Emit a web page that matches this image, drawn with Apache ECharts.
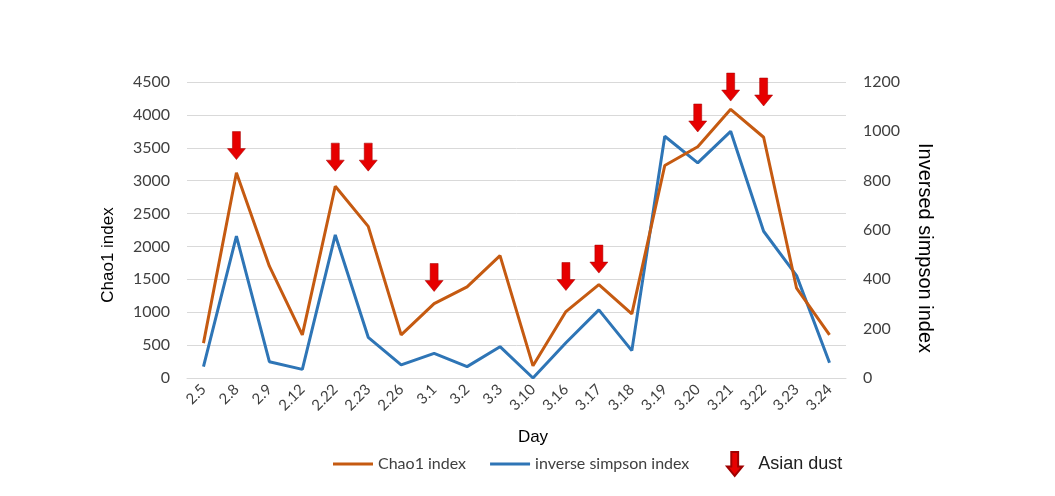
<!DOCTYPE html>
<html>
<head>
<meta charset="utf-8">
<script src="https://cdn.jsdelivr.net/npm/echarts@6/dist/echarts.min.js"></script>
<style>
html,body{margin:0;padding:0;background:#fff;}
#c{width:1055px;height:496px;}
</style>
</head>
<body>
<div id="c"></div>
<script>
var days = ['2.5','2.8','2.9','2.12','2.22','2.23','2.26','3.1','3.2','3.3','3.10','3.16','3.17','3.18','3.19','3.20','3.21','3.22','3.23','3.24'];
var chao1 = [530, 3120, 1700, 655, 2915, 2305, 655, 1130, 1385, 1860, 185, 1010, 1420, 975, 3230, 3515, 4085, 3660, 1365, 655];
var invSimpson = [46, 575, 66, 35, 580, 165, 53, 100, 46, 127, 0, 143, 276, 111, 980, 872, 1000, 595, 415, 62];
var dustDays = ['2.8','2.22','2.23','3.1','3.16','3.17','3.20','3.21','3.22'];
var dustLevel = [3320, 3145, 3145, 1315, 1330, 1595, 3740, 4210, 4135];
var leftTicks = {min: 0, max: 4500, interval: 500};
var rightTicks = {min: 0, max: 1200, interval: 200};

var arrowPath = 'path://M5,0L13,0L13,17L18,17L9,28L0,17L5,17Z';
var orange = '#C55A11';
var blue = '#2E75B6';
var red = '#E60000';

var chart = echarts.init(document.getElementById('c'));
chart.setOption({
  animation: false,
  backgroundColor: '#fff',
  grid: {left: 187, right: 209, top: 82, bottom: 118, containLabel: false},
  legend: [{
    left: 328, top: 451,
    itemWidth: 40, itemHeight: 3, itemGap: 24,
    icon: 'rect',
    textStyle: {fontFamily: 'Lato', fontSize: 16, color: '#404040'},
    data: ['Chao1 index', 'inverse simpson index']
  }, {
    left: 721, top: 446,
    itemWidth: 17, itemHeight: 24,
    textStyle: {fontFamily: 'Liberation Sans', fontSize: 18, color: '#202020', padding: [0,0,0,10]},
    data: [{name: 'Asian dust', icon: arrowPath, itemStyle: {opacity: 1}}]
  }],
  xAxis: {
    type: 'category',
    data: days,
    boundaryGap: true,
    axisLine: {lineStyle: {color: '#d9d9d9', width: 1}},
    axisTick: {show: false},
    axisLabel: {rotate: 45, margin: 9, fontFamily: 'Lato', fontSize: 15, color: '#404040', interval: 0}
  },
  yAxis: [{
    type: 'value',
    min: leftTicks.min, max: leftTicks.max, interval: leftTicks.interval,
    axisLine: {show: false}, axisTick: {show: false},
    splitLine: {lineStyle: {color: '#d9d9d9', width: 1}},
    axisLabel: {margin: 17, fontFamily: 'Lato', fontSize: 16, color: '#404040',
      formatter: function (v) { return String(v); }}
  }, {
    type: 'value',
    min: rightTicks.min, max: rightTicks.max, interval: rightTicks.interval,
    axisLine: {show: false}, axisTick: {show: false},
    splitLine: {show: false},
    axisLabel: {margin: 17, fontFamily: 'Lato', fontSize: 16, color: '#404040',
      formatter: function (v) { return String(v); }}
  }],
  series: [{
    name: 'Chao1 index', type: 'line', yAxisIndex: 0,
    data: chao1, symbol: 'none',
    lineStyle: {color: orange, width: 3}, itemStyle: {color: orange}, z: 3
  }, {
    name: 'inverse simpson index', type: 'line', yAxisIndex: 1,
    data: invSimpson, symbol: 'none',
    lineStyle: {color: blue, width: 3}, itemStyle: {color: blue}, z: 2
  }, {
    name: 'Asian dust', type: 'scatter', yAxisIndex: 0,
    data: dustDays.map(function(d, i){ return [d, dustLevel[i]]; }),
    symbol: arrowPath, symbolSize: [18, 28], symbolOffset: [0, '-50%'],
    itemStyle: {color: red, borderColor: '#A00000', borderWidth: 0.5, opacity: 1}, z: 5
  }],
  graphic: [{
    type: 'text', x: 108, y: 255, rotation: Math.PI / 2,
    style: {text: 'Chao1 index', x: 0, y: 0, align: 'center', verticalAlign: 'middle',
      font: '17px "Liberation Sans"', fill: '#000'}
  }, {
    type: 'text', x: 925, y: 248, rotation: -Math.PI / 2,
    style: {text: 'Inversed simpson index', x: 0, y: 0, align: 'center', verticalAlign: 'middle',
      font: '20px "Liberation Sans"', fill: '#000'}
  }, {
    type: 'text', x: 533, y: 437,
    style: {text: 'Day', x: 0, y: 0, align: 'center', verticalAlign: 'middle',
      font: '17px "Liberation Sans"', fill: '#000'}
  }]
});
</script>
</body>
</html>
